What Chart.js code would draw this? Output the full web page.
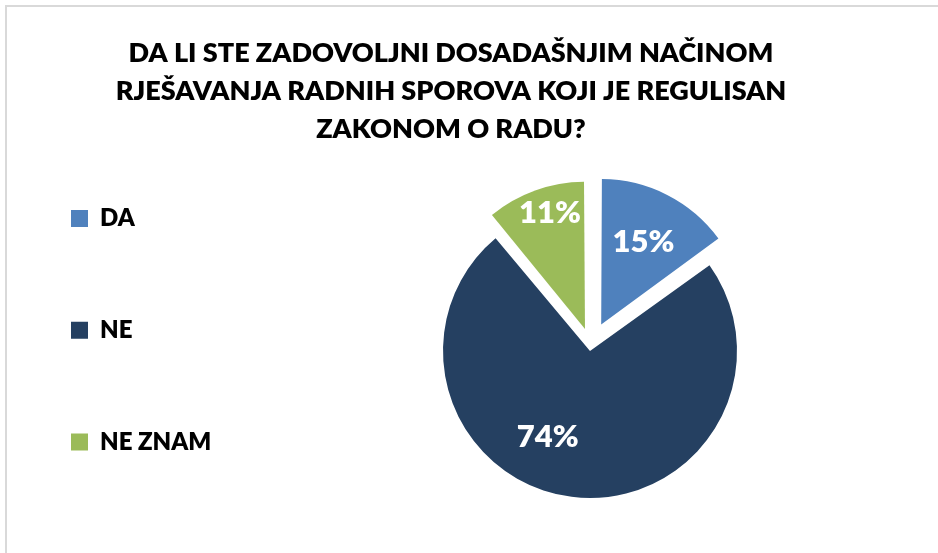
<!DOCTYPE html>
<html>
<head>
<meta charset="utf-8">
<script src="https://cdn.jsdelivr.net/npm/chart.js@4/dist/chart.umd.min.js"></script>
<style>
  body { margin: 0; background: #fff; }
  #wrap { position: relative; width: 938px; height: 553px; overflow: hidden; }
  #frame { position: absolute; left: 5px; top: 5px; width: 1000px; height: 600px;
           border-top: 2px solid #d9d9d9; border-left: 2px solid #d9d9d9; }
  #pie { position: absolute; left: 0; top: 0; }
</style>
</head>
<body>
<div id="wrap">
  <div id="frame"></div>
  <canvas id="pie" width="938" height="553"></canvas>
</div>
<script>
const title_lines = ['DA LI STE ZADOVOLJNI DOSADAŠNJIM NAČINOM', 'RJEŠAVANJA RADNIH SPOROVA KOJI JE REGULISAN', 'ZAKONOM O RADU?']
const categories = ['DA', 'NE', 'NE ZNAM']
const shares = [15, 74, 11]
const value_labels = ['15%', '74%', '11%']

const slice_colors = ['#4F81BD', '#254061', '#9BBB59']
const slice_offset = [92, 24, 68]   // explode distance (chart.js divides by 4)
const label_frac = [0.66, 0.68, 0.86]
const label_turn = [0, 19, 3]       // degrees, Excel "best fit" is not on the bisector

Chart.defaults.font.family = 'Lato'

// wide legend box pushes the pie to the right, like in the excel chart
const wide_legend = {
    id: 'wide_legend',
    beforeInit(chart) {
        const fit_orig = chart.legend.fit
        chart.legend.fit = function () {
            fit_orig.bind(chart.legend)()
            this.width = 279.5
        }
    }
}

const slice_labels = {
    id: 'slice_labels',
    afterDatasetsDraw(chart) {
        const ctx = chart.ctx
        const meta = chart.getDatasetMeta(0)
        ctx.save()
        ctx.font = '800 31px Lato'
        ctx.fillStyle = '#ffffff'
        ctx.textAlign = 'center'
        ctx.textBaseline = 'middle'
        meta.data.forEach((arc, i) => {
            const p = arc.getProps(['x', 'y', 'startAngle', 'endAngle', 'outerRadius'])
            const mid = (p.startAngle + p.endAngle) / 2
            const shift = (arc.options.offset || 0) / 4
            const a = mid + label_turn[i] * Math.PI / 180
            const r = p.outerRadius * label_frac[i]
            const x = p.x + Math.cos(mid) * shift + Math.cos(a) * r
            const y = p.y + Math.sin(mid) * shift + Math.sin(a) * r
            ctx.fillText(value_labels[i], x, y)
        })
        ctx.restore()
    }
}

let ctx = document.getElementById('pie')

let data = {
    labels: categories,
    datasets: [{
        data: shares,
        backgroundColor: slice_colors,
        borderWidth: 0,
        offset: slice_offset,
        radius: 141
    }]
}

let options = {
    responsive: false,
    animation: false,
    devicePixelRatio: 1,
    layout: {
        padding: { left: 61, right: 97, top: 0, bottom: 11.4 }
    },
    plugins: {
        title: {
            display: true,
            text: title_lines,
            color: '#000000',
            font: { size: 27, weight: 800, lineHeight: 37.8 / 27 },
            padding: { top: 34.6, bottom: 0.4 }
        },
        legend: {
            position: 'left',
            align: 'end',
            labels: {
                boxWidth: 17,
                boxHeight: 17,
                padding: 10,
                color: '#000000',
                font: { size: 24, weight: 800, lineHeight: 101.7 / 24 },
                generateLabels: chart => chart.data.labels.map((l, i) => ({
                    text: [l],
                    fillStyle: slice_colors[i],
                    strokeStyle: slice_colors[i],
                    lineWidth: 0,
                    hidden: false,
                    index: i
                }))
            }
        },
        tooltip: { enabled: false }
    }
}

let my_chart = new Chart(ctx, {
    type: 'pie',
    data: data,
    options: options,
    plugins: [wide_legend, slice_labels]
})
</script>
</body>
</html>
